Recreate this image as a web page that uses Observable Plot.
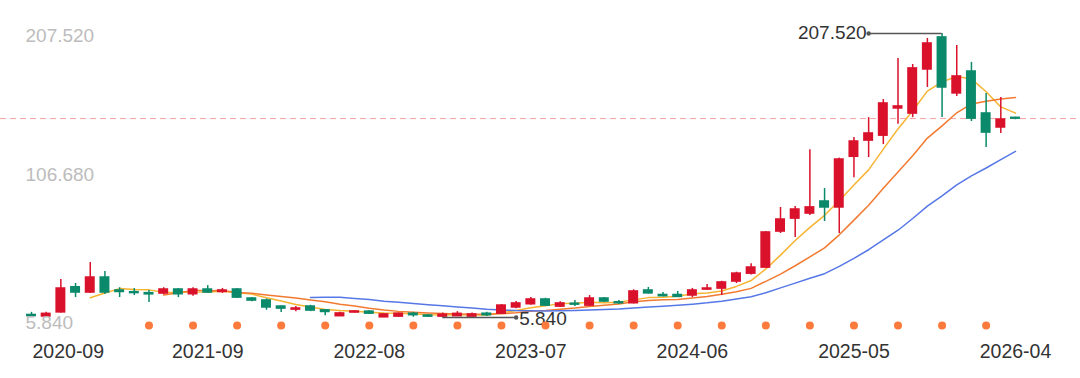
<!DOCTYPE html>
<html>
<head>
<meta charset="utf-8">
<script src="https://cdn.jsdelivr.net/npm/d3@7"></script>
<script src="https://cdn.jsdelivr.net/npm/@observablehq/plot@0.6"></script>
<style>
  html, body { margin: 0; padding: 0; background: #fff; }
  #chart svg { display: block; }
</style>
</head>
<body>
<div id="chart"></div>
<script>
// Monthly candles
const months = [
  "2020-09","2020-10","2020-11","2020-12","2021-01","2021-02","2021-03","2021-04","2021-05","2021-06","2021-07","2021-08",
  "2021-09","2021-10","2021-11","2021-12","2022-01","2022-02","2022-03","2022-04","2022-05","2022-06","2022-07","2022-08",
  "2022-09","2022-10","2022-11","2022-12","2023-01","2023-02","2023-03","2023-04","2023-05","2023-06","2023-07","2023-08",
  "2023-09","2023-10","2023-11","2023-12","2024-01","2024-02","2024-03","2024-04","2024-05","2024-06","2024-07","2024-08",
  "2024-09","2024-10","2024-11","2024-12","2025-01","2025-02","2025-03","2025-04","2025-05","2025-06","2025-07","2025-08",
  "2025-09","2025-10","2025-11","2025-12","2026-01","2026-02","2026-03","2026-04"
];
const open = [
  7.6, 6.6, 9.5, 27.3, 23.6, 34.2, 25.0, 23.8, 23.1, 22.9, 25.7, 22.4,
  25.7, 24.0, 25.7, 19.3, 17.9, 13.6, 11.5, 13.6, 10.9, 6.8, 9.4, 10.0,
  6.0, 6.5, 8.5, 7.2, 6.5, 6.8, 6.5, 8.5, 8.6, 13.0, 15.3, 18.6,
  13.6, 15.6, 14.3, 19.3, 16.6, 16.0, 25.0, 21.8, 21.8, 21.5, 25.7, 26.4,
  31.4, 37.0, 41.3, 66.9, 76.1, 79.7, 88.2, 84.0, 120.0, 131.5, 135.0, 154.3,
  150.7, 182.0, 204.7, 165.0, 180.5, 150.7, 140.8, 147.6
];
const high = [
  9.5, 9.5, 32.8, 30.0, 44.9, 38.5, 27.0, 26.4, 25.0, 27.0, 26.4, 27.0,
  28.5, 26.5, 26.4, 20.0, 19.0, 14.0, 13.6, 14.5, 11.5, 9.5, 10.5, 10.8,
  8.5, 9.0, 9.5, 8.0, 9.0, 10.0, 9.0, 9.5, 15.0, 17.2, 20.0, 19.5,
  17.0, 17.9, 21.4, 20.0, 17.9, 25.5, 27.2, 23.6, 24.3, 26.5, 29.3, 31.5,
  38.0, 44.0, 66.8, 84.0, 84.6, 125.0, 97.4, 119.0, 133.7, 147.8, 160.6, 189.8,
  185.5, 204.0, 207.52, 199.0, 187.0, 164.9, 162.0, 148.0
];
const low = [
  6.0, 6.0, 9.0, 20.0, 22.9, 22.2, 20.0, 21.4, 16.5, 22.0, 20.0, 21.0,
  23.0, 23.0, 19.3, 17.0, 11.0, 9.4, 10.0, 10.0, 7.0, 6.5, 9.0, 8.0,
  5.9, 6.0, 6.0, 6.0, 5.84, 6.5, 6.2, 6.5, 8.0, 12.0, 14.5, 13.6,
  13.0, 13.6, 13.6, 16.5, 15.0, 15.5, 22.5, 20.5, 20.0, 20.0, 25.0, 21.5,
  30.0, 36.0, 41.0, 65.5, 62.6, 78.2, 74.0, 65.5, 105.0, 119.4, 128.7, 143.0,
  147.8, 169.2, 147.8, 162.8, 145.0, 126.5, 136.5, 146.3
];
const close = [
  6.9, 8.4, 26.4, 23.6, 34.2, 23.6, 24.0, 23.2, 22.3, 25.7, 22.4, 25.7,
  23.6, 25.0, 20.0, 17.9, 13.0, 12.2, 12.2, 10.8, 9.8, 8.7, 10.1, 8.6,
  8.0, 8.5, 7.5, 6.5, 7.8, 8.4, 8.0, 7.5, 14.3, 15.8, 18.6, 14.3,
  15.8, 15.0, 19.3, 17.2, 16.0, 24.3, 23.0, 21.0, 20.5, 25.0, 26.4, 30.7,
  37.0, 41.3, 66.2, 75.4, 82.5, 84.0, 84.0, 118.0, 130.8, 136.5, 157.8, 155.7,
  182.7, 200.4, 169.2, 177.0, 147.1, 137.2, 146.4, 147.1
];
// Event markers (orange dots under the candles)
const eventMonths = [
  "2021-05","2021-08","2021-11","2022-02","2022-05","2022-08","2022-11","2023-02","2023-05","2023-08",
  "2023-11","2024-02","2024-05","2024-08","2024-11","2025-02","2025-05","2025-08","2025-11","2026-02"
];
// Axis labels
const xTickMonths = ["2020-09","2021-09","2022-08","2023-07","2024-06","2025-05","2026-04"];
const yTickValues = [207.52, 106.68, 5.84];
// Moving averages
const maPeriods = [5, 10, 20];
const maColors = ["#f6b431", "#f27a30", "#5677e6"];

const RED = "#d9112b", GREEN = "#0a8a6a";
const data = months.map((m, i) => ({i, month: m, open: open[i], high: high[i], low: low[i], close: close[i]}));
const idx = new Map(months.map((m, i) => [m, i]));
const col = d => d.close >= d.open ? RED : GREEN;
const maxD = d3.greatest(data, d => d.high);
const minD = d3.least(data, d => d.low);
const last = data[data.length - 1];
const fmt = d3.format(".3f");
const FONT = "'Liberation Sans', Arial, sans-serif";

const chart = Plot.plot({
  width: 1080,
  height: 378,
  marginLeft: 0, marginRight: 0, marginTop: 0, marginBottom: 53,
  x: {type: "linear", domain: [0, months.length - 1], range: [31, 1015], axis: null},
  y: {type: "linear", domain: [minD.low, maxD.high], range: [317, 33], axis: null},
  color: {type: "identity"},
  style: {fontFamily: FONT, background: "#fff", overflow: "visible"},
  marks: [
    Plot.ruleY([last.close], {stroke: "#f4a0a0", strokeDasharray: "6,4", strokeWidth: 1}),
    ...maPeriods.map((k, j) => Plot.lineY(data, Plot.windowY(
      {k, anchor: "end", strict: true, reduce: "mean"},
      {x: "i", y: "close", stroke: maColors[j], strokeWidth: 1.5}
    ))),
    Plot.ruleX(data, {x: "i", y1: "low", y2: "high", stroke: col, strokeWidth: 1.5}),
    Plot.rect(data, {x1: d => d.i - 0.34, x2: d => d.i + 0.34, y1: "open", y2: "close", fill: col, insetTop: -0.8, insetBottom: -0.8}),
    // max annotation
    Plot.ruleY([maxD], {x1: d => d.i - 5, x2: "i", y: "high", stroke: "#555", strokeWidth: 1.3}),
    Plot.dot([maxD], {x: d => d.i - 5, y: "high", r: 2.2, fill: "#555"}),
    Plot.text([maxD], {x: d => d.i - 5, y: "high", text: d => fmt(d.high), textAnchor: "end", dx: -2, dy: -1, fontSize: 19, fill: "#333"}),
    // min annotation
    Plot.ruleY([minD], {x1: "i", x2: d => d.i + 5, y: "low", stroke: "#555", strokeWidth: 1.3}),
    Plot.dot([minD], {x: d => d.i + 5, y: "low", r: 2.2, fill: "#555"}),
    Plot.text([minD], {x: d => d.i + 5, y: "low", text: d => fmt(d.low), textAnchor: "start", dx: 3, dy: 1, fontSize: 19, fill: "#333"}),
    // y labels
    Plot.text(yTickValues.slice(0, 1), {y: d => d, text: d => fmt(d), frameAnchor: "left", dx: 25, dy: 2, textAnchor: "start", fontSize: 19, fill: "#bcbcbc"}),
    Plot.text(yTickValues.slice(1, 2), {y: d => d, text: d => fmt(d), frameAnchor: "left", dx: 25, dy: -1, textAnchor: "start", fontSize: 19, fill: "#bcbcbc"}),
    Plot.text(yTickValues.slice(2), {y: d => d, text: d => fmt(d), frameAnchor: "left", dx: 25, dy: 5, textAnchor: "start", fontSize: 19, fill: "#bcbcbc"}),
    // event dots
    Plot.dot(eventMonths, {x: m => idx.get(m), frameAnchor: "bottom", r: 4, fill: "#fb7a3c"}),
    // x labels
    Plot.text(xTickMonths.slice(0, 1), {x: m => idx.get(m), text: d => d, frameAnchor: "bottom", dy: 32, dx: 1, textAnchor: "start", fontSize: 19.5, fill: "#333"}),
    Plot.text(xTickMonths.slice(1), {x: m => idx.get(m), text: d => d, frameAnchor: "bottom", dy: 32, fontSize: 19.5, fill: "#333"})
  ]
});
document.getElementById("chart").appendChild(chart);
</script>
</body>
</html>
